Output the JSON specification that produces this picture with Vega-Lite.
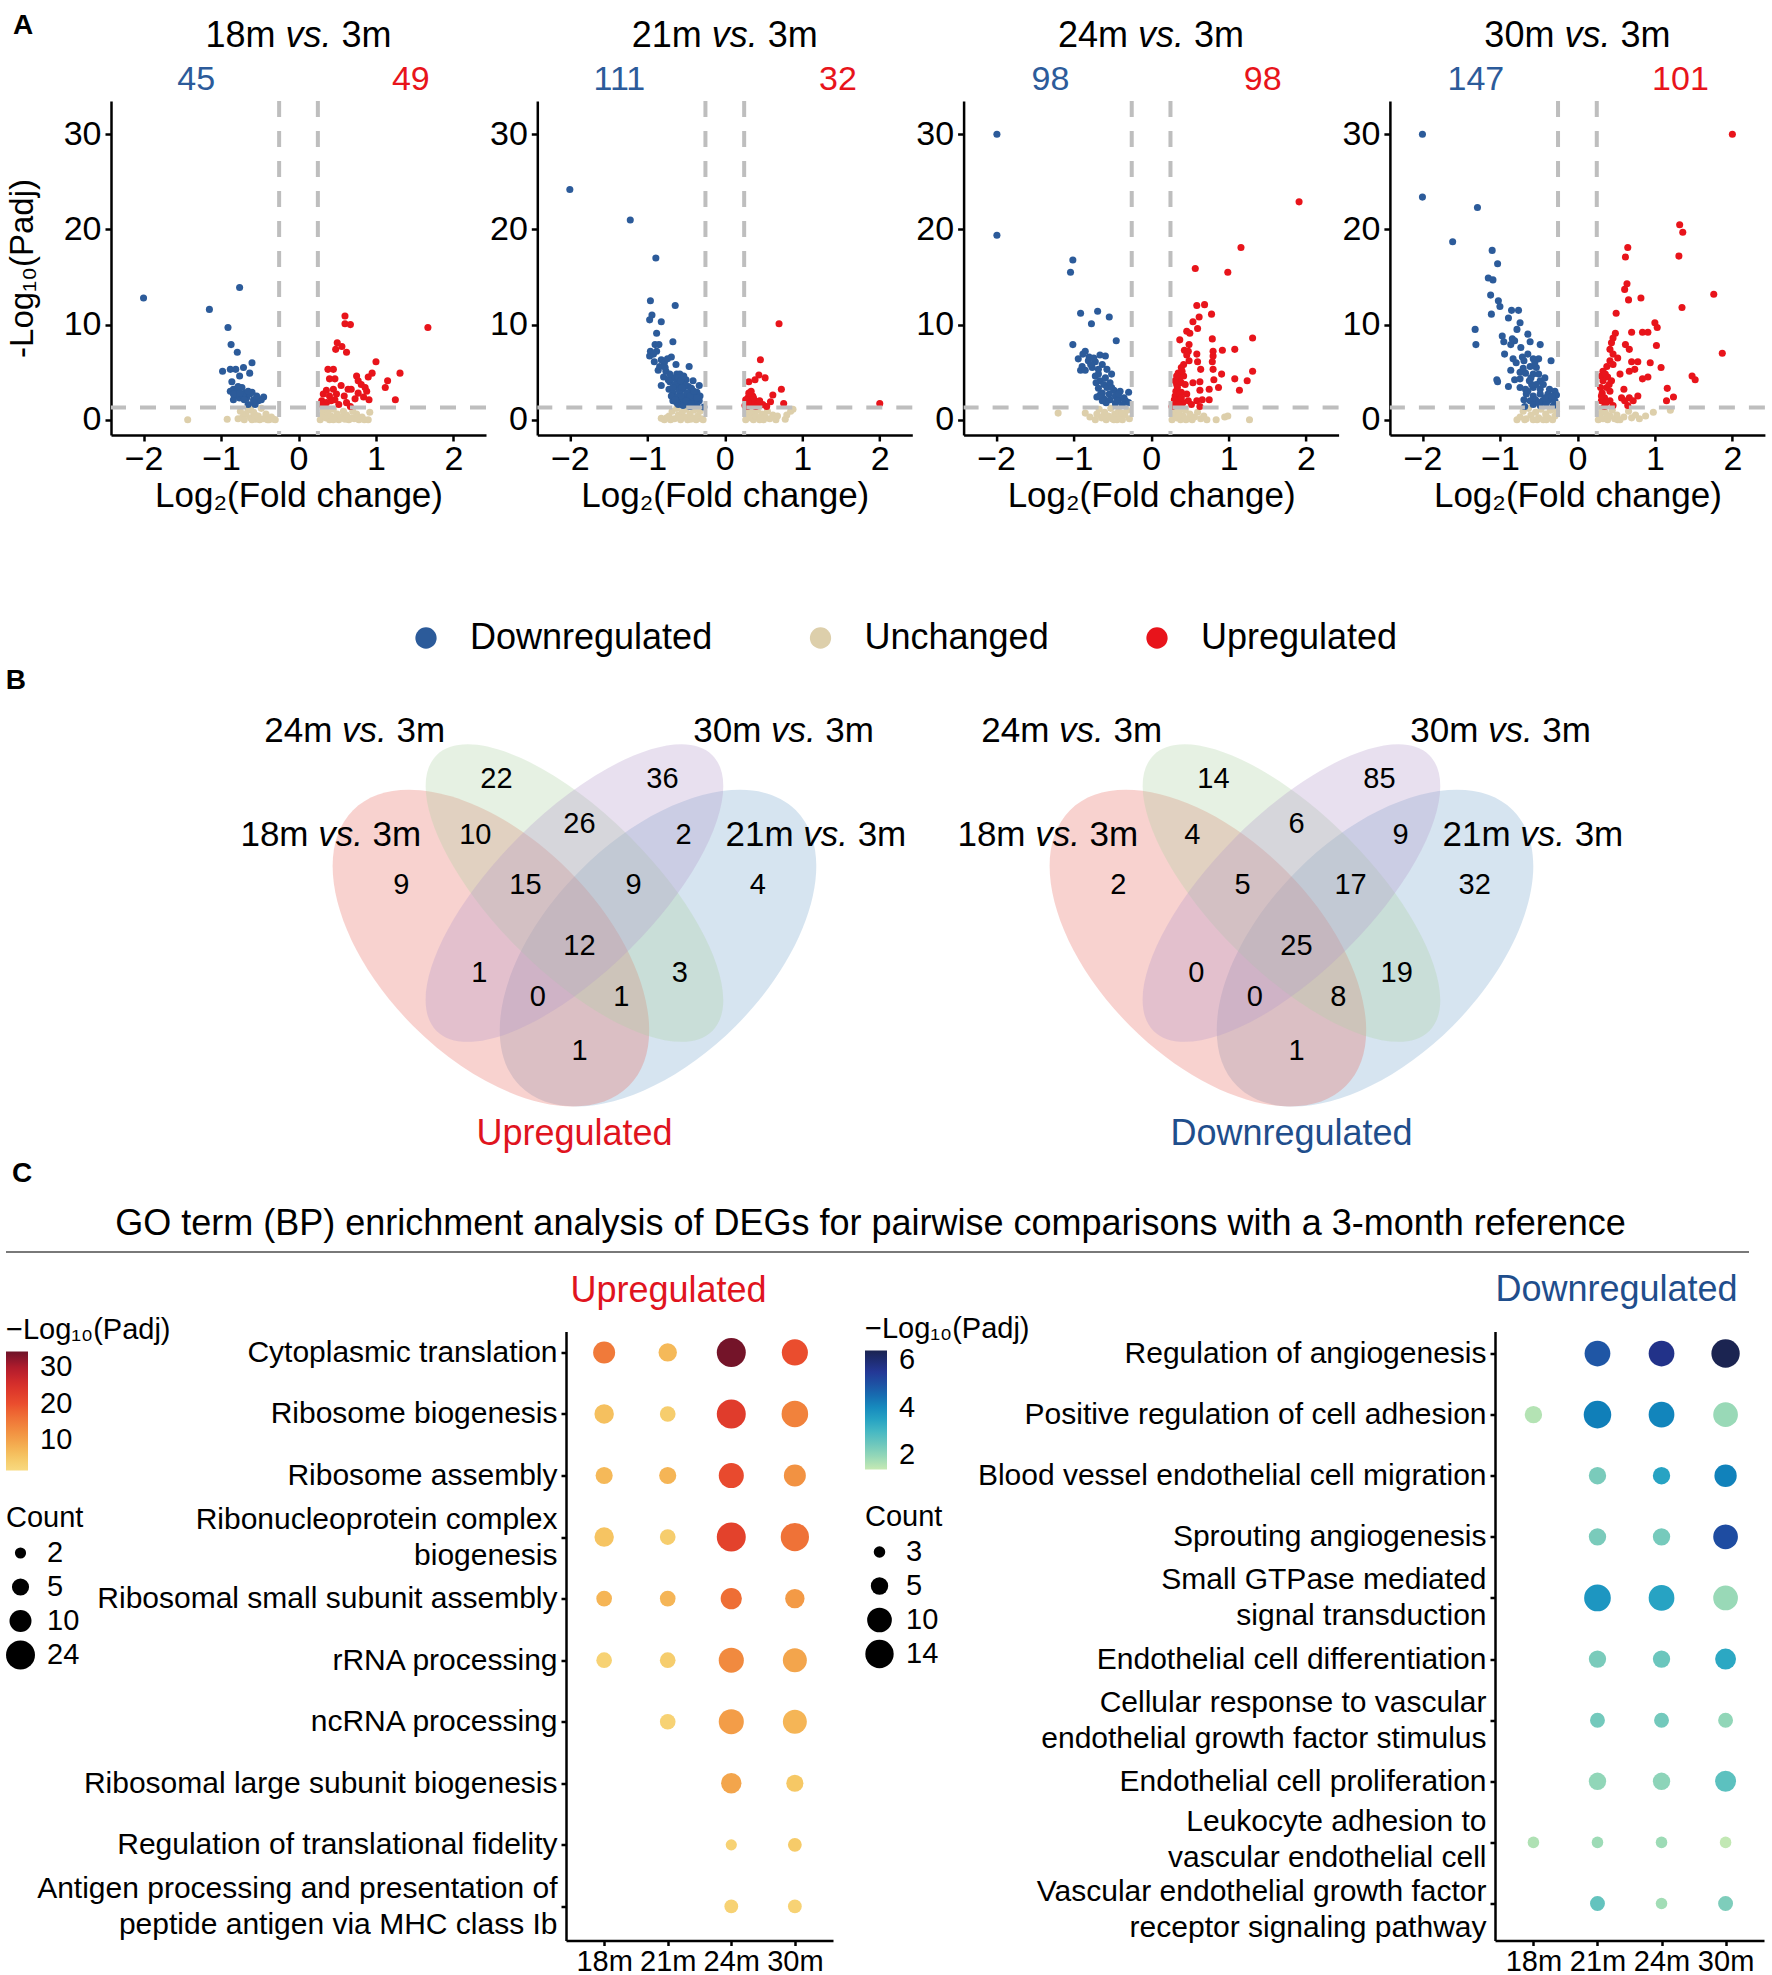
{
"$schema": "https://vega.github.io/schema/vega-lite/v6.json",
"background": "white",
"padding": {"left": 5, "top": 11, "right": 0, "bottom": 0},
"config": {
 "font": "Liberation Sans",
 "view": {"stroke": null},
 "axis": {"grid": false, "domainColor": "#000000", "tickColor": "#000000", "labelColor": "#000000", "titleColor": "#000000", "titleFontWeight": "normal", "domainWidth": 2.5, "tickWidth": 2.5},
 "legend": {"titleFontWeight": "normal", "labelColor": "#000000", "titleColor": "#000000"},
 "title": {"fontWeight": "normal"}
},
"datasets": {
 "pan": [{"g":"18m","down":45,"up":49},{"g":"21m","down":111,"up":32},{"g":"24m","down":98,"up":98},{"g":"30m","down":147,"up":101}],
 "vcut": [{"fc":-0.25},{"fc":0.25}],
 "hcut": [{"p":1.3}],
 "ell": [{"set":"18m","u":0.35,"v":0.471},{"set":"21m","u":0.65,"v":0.471},{"set":"24m","u":0.5,"v":0.57},{"set":"30m","u":0.5,"v":0.57}],
 "slab": [{"set":"24m","u":0.105,"v":0.861},{"set":"30m","u":0.875,"v":0.861},{"set":"18m","u":0.062,"v":0.674},{"set":"21m","u":0.933,"v":0.674}],
 "vdir": [{"dir":"Upregulated"},{"dir":"Downregulated"}],
 "vn": [
  {"dir":"Upregulated","u":0.36,"v":0.774,"n":22},{"dir":"Upregulated","u":0.658,"v":0.774,"n":36},{"dir":"Upregulated","u":0.322,"v":0.674,"n":10},{"dir":"Upregulated","u":0.509,"v":0.694,"n":26},{"dir":"Upregulated","u":0.696,"v":0.674,"n":2},{"dir":"Upregulated","u":0.189,"v":0.584,"n":9},{"dir":"Upregulated","u":0.412,"v":0.584,"n":15},{"dir":"Upregulated","u":0.606,"v":0.584,"n":9},{"dir":"Upregulated","u":0.829,"v":0.584,"n":4},{"dir":"Upregulated","u":0.509,"v":0.475,"n":12},{"dir":"Upregulated","u":0.329,"v":0.426,"n":1},{"dir":"Upregulated","u":0.434,"v":0.383,"n":0},{"dir":"Upregulated","u":0.584,"v":0.383,"n":1},{"dir":"Upregulated","u":0.689,"v":0.426,"n":3},{"dir":"Upregulated","u":0.509,"v":0.287,"n":1},
  {"dir":"Downregulated","u":0.36,"v":0.774,"n":14},{"dir":"Downregulated","u":0.658,"v":0.774,"n":85},{"dir":"Downregulated","u":0.322,"v":0.674,"n":4},{"dir":"Downregulated","u":0.509,"v":0.694,"n":6},{"dir":"Downregulated","u":0.696,"v":0.674,"n":9},{"dir":"Downregulated","u":0.189,"v":0.584,"n":2},{"dir":"Downregulated","u":0.412,"v":0.584,"n":5},{"dir":"Downregulated","u":0.606,"v":0.584,"n":17},{"dir":"Downregulated","u":0.829,"v":0.584,"n":32},{"dir":"Downregulated","u":0.509,"v":0.475,"n":25},{"dir":"Downregulated","u":0.329,"v":0.426,"n":0},{"dir":"Downregulated","u":0.434,"v":0.383,"n":0},{"dir":"Downregulated","u":0.584,"v":0.383,"n":8},{"dir":"Downregulated","u":0.689,"v":0.426,"n":19},{"dir":"Downregulated","u":0.509,"v":0.287,"n":1}
 ],
 "goup": [
  {"term":"Cytoplasmic translation","age":"18m","count":10,"padj":15},{"term":"Cytoplasmic translation","age":"21m","count":6,"padj":7},{"term":"Cytoplasmic translation","age":"24m","count":24,"padj":34},{"term":"Cytoplasmic translation","age":"30m","count":17,"padj":20},
  {"term":"Ribosome biogenesis","age":"18m","count":7,"padj":6},{"term":"Ribosome biogenesis","age":"21m","count":4,"padj":4},{"term":"Ribosome biogenesis","age":"24m","count":24,"padj":23},{"term":"Ribosome biogenesis","age":"30m","count":18,"padj":14},
  {"term":"Ribosome assembly","age":"18m","count":5,"padj":7},{"term":"Ribosome assembly","age":"21m","count":5,"padj":7.5},{"term":"Ribosome assembly","age":"24m","count":15,"padj":20.5},{"term":"Ribosome assembly","age":"30m","count":10,"padj":12},
  {"term":"Ribonucleoprotein complex\nbiogenesis","age":"18m","count":7,"padj":5.5},{"term":"Ribonucleoprotein complex\nbiogenesis","age":"21m","count":4,"padj":4},{"term":"Ribonucleoprotein complex\nbiogenesis","age":"24m","count":24,"padj":22},{"term":"Ribonucleoprotein complex\nbiogenesis","age":"30m","count":22,"padj":16},
  {"term":"Ribosomal small subunit assembly","age":"18m","count":4,"padj":7.5},{"term":"Ribosomal small subunit assembly","age":"21m","count":4,"padj":7.5},{"term":"Ribosomal small subunit assembly","age":"24m","count":9,"padj":16.5},{"term":"Ribosomal small subunit assembly","age":"30m","count":7,"padj":11},
  {"term":"rRNA processing","age":"18m","count":4,"padj":3},{"term":"rRNA processing","age":"21m","count":4,"padj":4},{"term":"rRNA processing","age":"24m","count":15,"padj":13},{"term":"rRNA processing","age":"30m","count":13,"padj":9.5},
  {"term":"ncRNA processing","age":"21m","count":4,"padj":3},{"term":"ncRNA processing","age":"24m","count":15,"padj":10.5},{"term":"ncRNA processing","age":"30m","count":13,"padj":7.5},
  {"term":"Ribosomal large subunit biogenesis","age":"24m","count":8,"padj":9.5},{"term":"Ribosomal large subunit biogenesis","age":"30m","count":5,"padj":5},
  {"term":"Regulation of translational fidelity","age":"24m","count":2,"padj":3},{"term":"Regulation of translational fidelity","age":"30m","count":3,"padj":4.5},
  {"term":"Antigen processing and presentation of\npeptide antigen via MHC class Ib\u00a0","age":"24m","count":3,"padj":3},{"term":"Antigen processing and presentation of\npeptide antigen via MHC class Ib\u00a0","age":"30m","count":3,"padj":3}
 ],
 "godn": [
  {"term":"Regulation of angiogenesis","age":"21m","count":11,"padj":4.9},{"term":"Regulation of angiogenesis","age":"24m","count":11,"padj":5.7},{"term":"Regulation of angiogenesis","age":"30m","count":14,"padj":6.4},
  {"term":"Positive regulation of cell adhesion","age":"18m","count":5,"padj":1.6},{"term":"Positive regulation of cell adhesion","age":"21m","count":13,"padj":4.2},{"term":"Positive regulation of cell adhesion","age":"24m","count":11,"padj":4.1},{"term":"Positive regulation of cell adhesion","age":"30m","count":10,"padj":1.9},
  {"term":"Blood vessel endothelial cell migration","age":"21m","count":5,"padj":2.3},{"term":"Blood vessel endothelial cell migration","age":"24m","count":5,"padj":3.5},{"term":"Blood vessel endothelial cell migration","age":"30m","count":8,"padj":4.15},
  {"term":"Sprouting angiogenesis","age":"21m","count":5,"padj":2.3},{"term":"Sprouting angiogenesis","age":"24m","count":5,"padj":2.35},{"term":"Sprouting angiogenesis","age":"30m","count":10,"padj":5.1},
  {"term":"Small GTPase mediated\nsignal transduction","age":"21m","count":12,"padj":3.8},{"term":"Small GTPase mediated\nsignal transduction","age":"24m","count":11,"padj":3.5},{"term":"Small GTPase mediated\nsignal transduction","age":"30m","count":10,"padj":1.9},
  {"term":"Endothelial cell differentiation","age":"21m","count":5,"padj":2.3},{"term":"Endothelial cell differentiation","age":"24m","count":5,"padj":2.5},{"term":"Endothelial cell differentiation","age":"30m","count":7,"padj":3.4},
  {"term":"Cellular response to vascular\nendothelial growth factor stimulus\u00a0","age":"21m","count":4,"padj":2.4},{"term":"Cellular response to vascular\nendothelial growth factor stimulus\u00a0","age":"24m","count":4,"padj":2.4},{"term":"Cellular response to vascular\nendothelial growth factor stimulus\u00a0","age":"30m","count":4,"padj":2.0},
  {"term":"Endothelial cell proliferation","age":"21m","count":5,"padj":2.0},{"term":"Endothelial cell proliferation","age":"24m","count":5,"padj":2.05},{"term":"Endothelial cell proliferation","age":"30m","count":7,"padj":2.7},
  {"term":"Leukocyte adhesion to\nvascular endothelial cell\u00a0","age":"18m","count":3,"padj":1.65},{"term":"Leukocyte adhesion to\nvascular endothelial cell\u00a0","age":"21m","count":3,"padj":1.85},{"term":"Leukocyte adhesion to\nvascular endothelial cell\u00a0","age":"24m","count":3,"padj":1.85},{"term":"Leukocyte adhesion to\nvascular endothelial cell\u00a0","age":"30m","count":3,"padj":1.45},
  {"term":"Vascular endothelial growth factor\nreceptor signaling pathway\u00a0","age":"21m","count":4,"padj":2.6},{"term":"Vascular endothelial growth factor\nreceptor signaling pathway\u00a0","age":"24m","count":3,"padj":1.8},{"term":"Vascular endothelial growth factor\nreceptor signaling pathway\u00a0","age":"30m","count":4,"padj":2.25}
 ],
 "vol": [
  {"g":"18m","s":"N","x":-1.43,"y":0.0},{"g":"18m","s":"N","x":-0.92,"y":0.05},{"g":"18m","s":"N","x":-0.78,"y":0.1},{"g":"18m","s":"N","x":-0.72,"y":0.3},{"g":"18m","s":"N","x":-0.68,"y":0.6},{"g":"18m","s":"N","x":-0.65,"y":1.0},{"g":"18m","s":"N","x":-0.62,"y":0.2},{"g":"18m","s":"N","x":-0.58,"y":0.8},{"g":"18m","s":"N","x":-0.55,"y":0.05},{"g":"18m","s":"N","x":-0.52,"y":0.4},{"g":"18m","s":"N","x":-0.48,"y":1.2},{"g":"18m","s":"N","x":-0.45,"y":0.1},{"g":"18m","s":"N","x":-0.42,"y":0.6},{"g":"18m","s":"N","x":-0.38,"y":0.0},{"g":"18m","s":"N","x":-0.35,"y":0.3},{"g":"18m","s":"N","x":-0.32,"y":0.05},{"g":"18m","s":"N","x":-0.30,"y":0.0},{"g":"18m","s":"N","x":-0.7,"y":0.0},{"g":"18m","s":"N","x":-0.6,"y":0.0},{"g":"18m","s":"N","x":-0.5,"y":0.0},{"g":"18m","s":"N","x":-0.4,"y":0.0},{"g":"18m","s":"N","x":-0.75,"y":0.9},{"g":"18m","s":"N","x":-0.56,"y":0.5},{"g":"18m","s":"N","x":-0.62,"y":1.1},
  {"g":"18m","s":"N","x":0.28,"y":0.0},{"g":"18m","s":"N","x":0.30,"y":0.5},{"g":"18m","s":"N","x":0.32,"y":1.0},{"g":"18m","s":"N","x":0.35,"y":0.2},{"g":"18m","s":"N","x":0.38,"y":0.8},{"g":"18m","s":"N","x":0.40,"y":0.0},{"g":"18m","s":"N","x":0.42,"y":0.4},{"g":"18m","s":"N","x":0.45,"y":1.1},{"g":"18m","s":"N","x":0.48,"y":0.1},{"g":"18m","s":"N","x":0.5,"y":0.6},{"g":"18m","s":"N","x":0.52,"y":0.0},{"g":"18m","s":"N","x":0.55,"y":0.3},{"g":"18m","s":"N","x":0.58,"y":0.9},{"g":"18m","s":"N","x":0.6,"y":0.05},{"g":"18m","s":"N","x":0.62,"y":0.5},{"g":"18m","s":"N","x":0.65,"y":0.0},{"g":"18m","s":"N","x":0.68,"y":0.2},{"g":"18m","s":"N","x":0.72,"y":0.1},{"g":"18m","s":"N","x":0.75,"y":0.6},{"g":"18m","s":"N","x":0.78,"y":0.0},{"g":"18m","s":"N","x":0.82,"y":0.3},{"g":"18m","s":"N","x":0.85,"y":0.0},{"g":"18m","s":"N","x":0.9,"y":0.0},{"g":"18m","s":"N","x":0.92,"y":0.8},{"g":"18m","s":"N","x":0.33,"y":1.2},{"g":"18m","s":"N","x":0.45,"y":0.0},{"g":"18m","s":"N","x":0.7,"y":0.9},
  {"g":"18m","s":"D","x":-2.0,"y":12.8},{"g":"18m","s":"D","x":-1.15,"y":11.6},{"g":"18m","s":"D","x":-0.76,"y":13.9},{"g":"18m","s":"D","x":-0.91,"y":9.7},{"g":"18m","s":"D","x":-0.87,"y":7.9},{"g":"18m","s":"D","x":-0.79,"y":7.1},{"g":"18m","s":"D","x":-0.60,"y":6.0},{"g":"18m","s":"D","x":-0.98,"y":5.1},{"g":"18m","s":"D","x":-0.88,"y":5.3},{"g":"18m","s":"D","x":-0.81,"y":5.3},{"g":"18m","s":"D","x":-0.71,"y":5.5},{"g":"18m","s":"D","x":-0.63,"y":4.9},{"g":"18m","s":"D","x":-0.76,"y":4.6},{"g":"18m","s":"D","x":-0.86,"y":4.0},{"g":"18m","s":"D","x":-0.84,"y":3.2},{"g":"18m","s":"D","x":-0.79,"y":3.1},{"g":"18m","s":"D","x":-0.73,"y":3.4},{"g":"18m","s":"D","x":-0.69,"y":2.8},{"g":"18m","s":"D","x":-0.60,"y":2.9},{"g":"18m","s":"D","x":-0.82,"y":2.5},{"g":"18m","s":"D","x":-0.76,"y":2.3},{"g":"18m","s":"D","x":-0.67,"y":2.3},{"g":"18m","s":"D","x":-0.58,"y":2.1},{"g":"18m","s":"D","x":-0.45,"y":2.4},{"g":"18m","s":"D","x":-0.52,"y":2.0},{"g":"18m","s":"D","x":-0.56,"y":1.6},{"g":"18m","s":"D","x":-0.65,"y":1.6},{"g":"18m","s":"D","x":-0.84,"y":2.1},{"g":"18m","s":"D","x":-0.80,"y":2.7},{"g":"18m","s":"D","x":-0.72,"y":2.6},{"g":"18m","s":"D","x":-0.88,"y":3.0},{"g":"18m","s":"D","x":-0.63,"y":2.7},{"g":"18m","s":"D","x":-0.48,"y":2.1},{"g":"18m","s":"D","x":-0.54,"y":2.5},{"g":"18m","s":"D","x":-0.70,"y":2.1},{"g":"18m","s":"D","x":-0.78,"y":3.5},{"g":"18m","s":"D","x":-0.76,"y":2.8},{"g":"18m","s":"D","x":-0.65,"y":3.0},{"g":"18m","s":"D","x":-0.84,"y":2.7},{"g":"18m","s":"D","x":-0.58,"y":1.8},
  {"g":"18m","s":"U","x":0.60,"y":10.9},{"g":"18m","s":"U","x":0.60,"y":10.1},{"g":"18m","s":"U","x":0.67,"y":10.0},{"g":"18m","s":"U","x":1.67,"y":9.7},{"g":"18m","s":"U","x":0.50,"y":8.1},{"g":"18m","s":"U","x":0.56,"y":7.7},{"g":"18m","s":"U","x":0.48,"y":7.4},{"g":"18m","s":"U","x":0.62,"y":7.1},{"g":"18m","s":"U","x":1.00,"y":6.1},{"g":"18m","s":"U","x":0.38,"y":5.3},{"g":"18m","s":"U","x":0.45,"y":5.3},{"g":"18m","s":"U","x":1.31,"y":4.9},{"g":"18m","s":"U","x":0.95,"y":4.9},{"g":"18m","s":"U","x":0.90,"y":4.5},{"g":"18m","s":"U","x":0.75,"y":4.6},{"g":"18m","s":"U","x":0.40,"y":4.3},{"g":"18m","s":"U","x":0.47,"y":4.3},{"g":"18m","s":"U","x":0.77,"y":4.1},{"g":"18m","s":"U","x":1.15,"y":4.1},{"g":"18m","s":"U","x":0.81,"y":3.7},{"g":"18m","s":"U","x":0.86,"y":3.4},{"g":"18m","s":"U","x":1.12,"y":3.4},{"g":"18m","s":"U","x":0.55,"y":3.6},{"g":"18m","s":"U","x":0.45,"y":3.2},{"g":"18m","s":"U","x":0.36,"y":3.1},{"g":"18m","s":"U","x":0.64,"y":3.2},{"g":"18m","s":"U","x":0.68,"y":3.2},{"g":"18m","s":"U","x":0.88,"y":3.0},{"g":"18m","s":"U","x":0.49,"y":2.7},{"g":"18m","s":"U","x":0.77,"y":2.8},{"g":"18m","s":"U","x":0.32,"y":2.7},{"g":"18m","s":"U","x":0.40,"y":2.5},{"g":"18m","s":"U","x":0.59,"y":2.5},{"g":"18m","s":"U","x":0.84,"y":2.4},{"g":"18m","s":"U","x":0.73,"y":2.2},{"g":"18m","s":"U","x":0.91,"y":2.1},{"g":"18m","s":"U","x":1.25,"y":2.1},{"g":"18m","s":"U","x":0.30,"y":2.0},{"g":"18m","s":"U","x":0.36,"y":1.8},{"g":"18m","s":"U","x":0.62,"y":1.8},{"g":"18m","s":"U","x":0.67,"y":1.4},{"g":"18m","s":"U","x":0.30,"y":1.6},{"g":"18m","s":"U","x":0.47,"y":2.1},{"g":"18m","s":"U","x":0.52,"y":1.6},{"g":"18m","s":"U","x":0.42,"y":2.0},
  {"g":"21m","s":"N","x":-0.82,"y":0.15},{"g":"21m","s":"N","x":-0.78,"y":0.0},{"g":"21m","s":"N","x":-0.72,"y":0.4},{"g":"21m","s":"N","x":-0.68,"y":0.9},{"g":"21m","s":"N","x":-0.65,"y":0.1},{"g":"21m","s":"N","x":-0.62,"y":1.2},{"g":"21m","s":"N","x":-0.6,"y":0.5},{"g":"21m","s":"N","x":-0.57,"y":0.0},{"g":"21m","s":"N","x":-0.55,"y":0.8},{"g":"21m","s":"N","x":-0.52,"y":0.3},{"g":"21m","s":"N","x":-0.5,"y":1.1},{"g":"21m","s":"N","x":-0.48,"y":0.0},{"g":"21m","s":"N","x":-0.45,"y":0.6},{"g":"21m","s":"N","x":-0.42,"y":0.2},{"g":"21m","s":"N","x":-0.4,"y":1.0},{"g":"21m","s":"N","x":-0.37,"y":0.0},{"g":"21m","s":"N","x":-0.35,"y":0.4},{"g":"21m","s":"N","x":-0.32,"y":0.9},{"g":"21m","s":"N","x":-0.3,"y":0.1},{"g":"21m","s":"N","x":-0.28,"y":0.0},{"g":"21m","s":"N","x":-0.7,"y":0.0},{"g":"21m","s":"N","x":-0.58,"y":0.2},{"g":"21m","s":"N","x":-0.44,"y":0.05},{"g":"21m","s":"N","x":-0.75,"y":0.2},
  {"g":"21m","s":"N","x":0.27,"y":0.0},{"g":"21m","s":"N","x":0.29,"y":0.5},{"g":"21m","s":"N","x":0.31,"y":1.1},{"g":"21m","s":"N","x":0.33,"y":0.2},{"g":"21m","s":"N","x":0.35,"y":0.8},{"g":"21m","s":"N","x":0.37,"y":0.0},{"g":"21m","s":"N","x":0.40,"y":0.4},{"g":"21m","s":"N","x":0.42,"y":1.0},{"g":"21m","s":"N","x":0.45,"y":0.1},{"g":"21m","s":"N","x":0.48,"y":0.6},{"g":"21m","s":"N","x":0.5,"y":0.0},{"g":"21m","s":"N","x":0.52,"y":0.3},{"g":"21m","s":"N","x":0.55,"y":0.9},{"g":"21m","s":"N","x":0.58,"y":0.1},{"g":"21m","s":"N","x":0.62,"y":0.5},{"g":"21m","s":"N","x":0.66,"y":0.0},{"g":"21m","s":"N","x":0.68,"y":0.4},{"g":"21m","s":"N","x":0.78,"y":0.05},{"g":"21m","s":"N","x":0.8,"y":0.5},{"g":"21m","s":"N","x":0.85,"y":0.9},{"g":"21m","s":"N","x":0.88,"y":1.1},{"g":"21m","s":"N","x":0.36,"y":1.2},{"g":"21m","s":"N","x":0.45,"y":0.0},
  {"g":"21m","s":"D","x":-2.0,"y":24.2},{"g":"21m","s":"D","x":-1.22,"y":21.0},{"g":"21m","s":"D","x":-0.89,"y":17.0},{"g":"21m","s":"D","x":-0.96,"y":12.5},{"g":"21m","s":"D","x":-0.64,"y":12.0},{"g":"21m","s":"D","x":-0.94,"y":11.0},{"g":"21m","s":"D","x":-0.97,"y":10.5},{"g":"21m","s":"D","x":-0.82,"y":10.3},{"g":"21m","s":"D","x":-0.88,"y":9.1},{"g":"21m","s":"D","x":-0.67,"y":8.2},{"g":"21m","s":"D","x":-0.90,"y":7.9},{"g":"21m","s":"D","x":-0.85,"y":7.9},{"g":"21m","s":"D","x":-0.96,"y":7.2},{"g":"21m","s":"D","x":-0.88,"y":7.2},{"g":"21m","s":"D","x":-0.97,"y":6.7},{"g":"21m","s":"D","x":-0.82,"y":6.3},{"g":"21m","s":"D","x":-0.69,"y":6.6},{"g":"21m","s":"D","x":-0.91,"y":6.1},{"g":"21m","s":"D","x":-0.78,"y":6.0},{"g":"21m","s":"D","x":-0.63,"y":5.8},{"g":"21m","s":"D","x":-0.46,"y":5.6},{"g":"21m","s":"D","x":-0.86,"y":5.2},{"g":"21m","s":"D","x":-0.76,"y":5.1},{"g":"21m","s":"D","x":-0.62,"y":4.8},{"g":"21m","s":"D","x":-0.58,"y":4.8},{"g":"21m","s":"D","x":-0.79,"y":4.5},{"g":"21m","s":"D","x":-0.67,"y":4.4},{"g":"21m","s":"D","x":-0.50,"y":4.2},{"g":"21m","s":"D","x":-0.71,"y":4.0},{"g":"21m","s":"D","x":-0.62,"y":4.1},{"g":"21m","s":"D","x":-0.56,"y":3.8},{"g":"21m","s":"D","x":-0.82,"y":3.6},{"g":"21m","s":"D","x":-0.47,"y":3.5},{"g":"21m","s":"D","x":-0.33,"y":3.6},{"g":"21m","s":"D","x":-0.62,"y":3.4},{"g":"21m","s":"D","x":-0.54,"y":3.2},{"g":"21m","s":"D","x":-0.43,"y":3.3},{"g":"21m","s":"D","x":-0.72,"y":3.2},{"g":"21m","s":"D","x":-0.67,"y":2.8},{"g":"21m","s":"D","x":-0.58,"y":2.8},{"g":"21m","s":"D","x":-0.45,"y":2.7},{"g":"21m","s":"D","x":-0.36,"y":2.9},{"g":"21m","s":"D","x":-0.62,"y":2.4},{"g":"21m","s":"D","x":-0.52,"y":2.3},{"g":"21m","s":"D","x":-0.41,"y":2.4},{"g":"21m","s":"D","x":-0.33,"y":2.0},{"g":"21m","s":"D","x":-0.56,"y":2.0},{"g":"21m","s":"D","x":-0.47,"y":1.8},{"g":"21m","s":"D","x":-0.36,"y":1.6},{"g":"21m","s":"D","x":-0.27,"y":1.35},{"g":"21m","s":"D","x":-0.67,"y":2.0},{"g":"21m","s":"D","x":-0.60,"y":1.6},{"g":"21m","s":"D","x":-0.45,"y":1.4},{"g":"21m","s":"D","x":-0.54,"y":1.5},{"g":"21m","s":"D","x":-0.64,"y":3.7},{"g":"21m","s":"D","x":-0.73,"y":4.2},{"g":"21m","s":"D","x":-0.60,"y":4.4},{"g":"21m","s":"D","x":-0.52,"y":3.7},{"g":"21m","s":"D","x":-0.41,"y":4.1},{"g":"21m","s":"D","x":-0.69,"y":2.5},{"g":"21m","s":"D","x":-0.32,"y":2.5},{"g":"21m","s":"D","x":-0.39,"y":2.0},{"g":"21m","s":"D","x":-0.57,"y":4.1},{"g":"21m","s":"D","x":-0.49,"y":2.8},{"g":"21m","s":"D","x":-0.43,"y":2.1},{"g":"21m","s":"D","x":-0.56,"y":2.5},{"g":"21m","s":"D","x":-0.62,"y":1.8},{"g":"21m","s":"D","x":-0.71,"y":4.8},{"g":"21m","s":"D","x":-0.77,"y":5.5},{"g":"21m","s":"D","x":-0.84,"y":5.6},{"g":"21m","s":"D","x":-0.92,"y":6.9},{"g":"21m","s":"D","x":-0.74,"y":6.4},{"g":"21m","s":"D","x":-0.59,"y":3.1},{"g":"21m","s":"D","x":-0.53,"y":4.6},{"g":"21m","s":"D","x":-0.45,"y":2.5},{"g":"21m","s":"D","x":-0.36,"y":2.3},{"g":"21m","s":"D","x":-0.64,"y":2.1},{"g":"21m","s":"D","x":-0.50,"y":2.0},{"g":"21m","s":"D","x":-0.40,"y":3.0},{"g":"21m","s":"D","x":-0.55,"y":3.4},{"g":"21m","s":"D","x":-0.67,"y":3.4},{"g":"21m","s":"D","x":-0.43,"y":1.7},
  {"g":"21m","s":"U","x":0.70,"y":10.1},{"g":"21m","s":"U","x":0.46,"y":6.3},{"g":"21m","s":"U","x":0.44,"y":4.7},{"g":"21m","s":"U","x":0.52,"y":4.4},{"g":"21m","s":"U","x":0.39,"y":4.2},{"g":"21m","s":"U","x":0.31,"y":4.0},{"g":"21m","s":"U","x":0.73,"y":3.2},{"g":"21m","s":"U","x":0.62,"y":2.6},{"g":"21m","s":"U","x":0.32,"y":2.7},{"g":"21m","s":"U","x":0.36,"y":2.5},{"g":"21m","s":"U","x":0.30,"y":2.3},{"g":"21m","s":"U","x":0.34,"y":2.1},{"g":"21m","s":"U","x":0.39,"y":2.0},{"g":"21m","s":"U","x":0.28,"y":2.0},{"g":"21m","s":"U","x":0.32,"y":1.8},{"g":"21m","s":"U","x":0.41,"y":1.7},{"g":"21m","s":"U","x":0.49,"y":1.6},{"g":"21m","s":"U","x":0.59,"y":1.9},{"g":"21m","s":"U","x":0.76,"y":1.7},{"g":"21m","s":"U","x":2.0,"y":1.7},{"g":"21m","s":"U","x":0.26,"y":1.5},{"g":"21m","s":"U","x":0.35,"y":1.6},{"g":"21m","s":"U","x":0.43,"y":1.5},{"g":"21m","s":"U","x":0.29,"y":1.4},{"g":"21m","s":"U","x":0.45,"y":2.0},{"g":"21m","s":"U","x":0.37,"y":2.3},{"g":"21m","s":"U","x":0.31,"y":2.8},{"g":"21m","s":"U","x":0.34,"y":3.0},{"g":"21m","s":"U","x":0.27,"y":2.1},{"g":"21m","s":"U","x":0.54,"y":1.4},{"g":"21m","s":"U","x":0.40,"y":1.4},{"g":"21m","s":"U","x":0.30,"y":1.8},
  {"g":"24m","s":"N","x":-0.85,"y":0.7},{"g":"24m","s":"N","x":-0.79,"y":0.3},{"g":"24m","s":"N","x":-1.2,"y":0.7},{"g":"24m","s":"N","x":-0.72,"y":0.0},{"g":"24m","s":"N","x":-0.7,"y":0.6},{"g":"24m","s":"N","x":-0.67,"y":1.1},{"g":"24m","s":"N","x":-0.64,"y":0.2},{"g":"24m","s":"N","x":-0.6,"y":0.8},{"g":"24m","s":"N","x":-0.58,"y":0.0},{"g":"24m","s":"N","x":-0.55,"y":0.4},{"g":"24m","s":"N","x":-0.52,"y":1.2},{"g":"24m","s":"N","x":-0.5,"y":0.1},{"g":"24m","s":"N","x":-0.47,"y":0.6},{"g":"24m","s":"N","x":-0.44,"y":0.0},{"g":"24m","s":"N","x":-0.42,"y":0.9},{"g":"24m","s":"N","x":-0.4,"y":0.3},{"g":"24m","s":"N","x":-0.37,"y":0.0},{"g":"24m","s":"N","x":-0.34,"y":0.5},{"g":"24m","s":"N","x":-0.31,"y":1.0},{"g":"24m","s":"N","x":-0.28,"y":0.1},{"g":"24m","s":"N","x":-0.62,"y":0.4},{"g":"24m","s":"N","x":-0.48,"y":0.0},{"g":"24m","s":"N","x":-0.38,"y":0.7},
  {"g":"24m","s":"N","x":0.27,"y":0.0},{"g":"24m","s":"N","x":0.29,"y":0.6},{"g":"24m","s":"N","x":0.31,"y":1.2},{"g":"24m","s":"N","x":0.33,"y":0.2},{"g":"24m","s":"N","x":0.36,"y":0.9},{"g":"24m","s":"N","x":0.38,"y":0.0},{"g":"24m","s":"N","x":0.41,"y":0.4},{"g":"24m","s":"N","x":0.44,"y":1.0},{"g":"24m","s":"N","x":0.47,"y":0.1},{"g":"24m","s":"N","x":0.5,"y":0.6},{"g":"24m","s":"N","x":0.53,"y":0.0},{"g":"24m","s":"N","x":0.56,"y":0.3},{"g":"24m","s":"N","x":0.6,"y":0.8},{"g":"24m","s":"N","x":0.64,"y":0.1},{"g":"24m","s":"N","x":0.68,"y":0.4},{"g":"24m","s":"N","x":0.72,"y":0.0},{"g":"24m","s":"N","x":0.84,"y":0.0},{"g":"24m","s":"N","x":0.95,"y":0.3},{"g":"24m","s":"N","x":0.99,"y":0.4},{"g":"24m","s":"N","x":1.27,"y":0.0},{"g":"24m","s":"N","x":0.45,"y":0.0},{"g":"24m","s":"N","x":0.35,"y":0.4},
  {"g":"24m","s":"D","x":-1.99,"y":30.0},{"g":"24m","s":"D","x":-1.99,"y":19.4},{"g":"24m","s":"D","x":-1.01,"y":16.8},{"g":"24m","s":"D","x":-1.04,"y":15.5},{"g":"24m","s":"D","x":-0.91,"y":11.2},{"g":"24m","s":"D","x":-0.69,"y":11.4},{"g":"24m","s":"D","x":-0.54,"y":10.8},{"g":"24m","s":"D","x":-0.77,"y":10.1},{"g":"24m","s":"D","x":-0.45,"y":8.3},{"g":"24m","s":"D","x":-1.01,"y":7.9},{"g":"24m","s":"D","x":-0.85,"y":7.2},{"g":"24m","s":"D","x":-0.88,"y":6.9},{"g":"24m","s":"D","x":-0.80,"y":6.6},{"g":"24m","s":"D","x":-0.66,"y":6.8},{"g":"24m","s":"D","x":-0.59,"y":6.7},{"g":"24m","s":"D","x":-0.94,"y":6.4},{"g":"24m","s":"D","x":-0.81,"y":6.2},{"g":"24m","s":"D","x":-0.72,"y":6.1},{"g":"24m","s":"D","x":-0.63,"y":5.8},{"g":"24m","s":"D","x":-0.91,"y":5.2},{"g":"24m","s":"D","x":-0.85,"y":5.2},{"g":"24m","s":"D","x":-0.76,"y":5.5},{"g":"24m","s":"D","x":-0.68,"y":5.3},{"g":"24m","s":"D","x":-0.57,"y":5.3},{"g":"24m","s":"D","x":-0.51,"y":4.8},{"g":"24m","s":"D","x":-0.72,"y":4.6},{"g":"24m","s":"D","x":-0.66,"y":4.1},{"g":"24m","s":"D","x":-0.71,"y":3.9},{"g":"24m","s":"D","x":-0.61,"y":3.7},{"g":"24m","s":"D","x":-0.57,"y":3.4},{"g":"24m","s":"D","x":-0.68,"y":3.3},{"g":"24m","s":"D","x":-0.48,"y":3.1},{"g":"24m","s":"D","x":-0.40,"y":3.0},{"g":"24m","s":"D","x":-0.29,"y":2.9},{"g":"24m","s":"D","x":-0.63,"y":2.8},{"g":"24m","s":"D","x":-0.54,"y":2.7},{"g":"24m","s":"D","x":-0.46,"y":2.5},{"g":"24m","s":"D","x":-0.70,"y":2.4},{"g":"24m","s":"D","x":-0.61,"y":2.2},{"g":"24m","s":"D","x":-0.53,"y":2.1},{"g":"24m","s":"D","x":-0.42,"y":2.1},{"g":"24m","s":"D","x":-0.33,"y":2.0},{"g":"24m","s":"D","x":-0.58,"y":1.8},{"g":"24m","s":"D","x":-0.46,"y":1.7},{"g":"24m","s":"D","x":-0.37,"y":1.6},{"g":"24m","s":"D","x":-0.29,"y":1.8},{"g":"24m","s":"D","x":-0.66,"y":2.6},{"g":"24m","s":"D","x":-0.59,"y":4.4},{"g":"24m","s":"D","x":-0.53,"y":3.9},{"g":"24m","s":"D","x":-0.42,"y":2.7},{"g":"24m","s":"D","x":-0.68,"y":4.8},{"g":"24m","s":"D","x":-0.89,"y":5.6},{"g":"24m","s":"D","x":-0.78,"y":5.8},{"g":"24m","s":"D","x":-0.74,"y":6.5},{"g":"24m","s":"D","x":-0.63,"y":2.0},{"g":"24m","s":"D","x":-0.51,"y":3.4},{"g":"24m","s":"D","x":-0.44,"y":2.0},{"g":"24m","s":"D","x":-0.35,"y":2.3},
  {"g":"24m","s":"U","x":1.91,"y":22.9},{"g":"24m","s":"U","x":1.16,"y":18.1},{"g":"24m","s":"U","x":0.57,"y":15.9},{"g":"24m","s":"U","x":0.99,"y":15.5},{"g":"24m","s":"U","x":0.59,"y":12.0},{"g":"24m","s":"U","x":0.69,"y":12.1},{"g":"24m","s":"U","x":0.78,"y":11.1},{"g":"24m","s":"U","x":0.62,"y":10.8},{"g":"24m","s":"U","x":0.54,"y":10.3},{"g":"24m","s":"U","x":0.60,"y":9.6},{"g":"24m","s":"U","x":0.46,"y":9.3},{"g":"24m","s":"U","x":0.50,"y":9.1},{"g":"24m","s":"U","x":0.37,"y":8.4},{"g":"24m","s":"U","x":0.79,"y":8.5},{"g":"24m","s":"U","x":1.31,"y":8.6},{"g":"24m","s":"U","x":0.49,"y":7.9},{"g":"24m","s":"U","x":0.43,"y":7.3},{"g":"24m","s":"U","x":0.48,"y":7.2},{"g":"24m","s":"U","x":0.80,"y":7.2},{"g":"24m","s":"U","x":0.92,"y":7.3},{"g":"24m","s":"U","x":1.08,"y":7.4},{"g":"24m","s":"U","x":0.46,"y":6.8},{"g":"24m","s":"U","x":0.59,"y":6.9},{"g":"24m","s":"U","x":0.80,"y":6.7},{"g":"24m","s":"U","x":0.49,"y":6.2},{"g":"24m","s":"U","x":0.60,"y":6.1},{"g":"24m","s":"U","x":0.79,"y":6.1},{"g":"24m","s":"U","x":0.39,"y":5.5},{"g":"24m","s":"U","x":0.64,"y":5.3},{"g":"24m","s":"U","x":0.80,"y":5.3},{"g":"24m","s":"U","x":1.31,"y":5.1},{"g":"24m","s":"U","x":0.91,"y":4.8},{"g":"24m","s":"U","x":0.35,"y":4.9},{"g":"24m","s":"U","x":0.42,"y":4.6},{"g":"24m","s":"U","x":0.81,"y":4.2},{"g":"24m","s":"U","x":1.08,"y":4.3},{"g":"24m","s":"U","x":0.54,"y":3.9},{"g":"24m","s":"U","x":0.63,"y":4.0},{"g":"24m","s":"U","x":1.24,"y":4.1},{"g":"24m","s":"U","x":0.33,"y":3.7},{"g":"24m","s":"U","x":0.39,"y":3.9},{"g":"24m","s":"U","x":0.87,"y":3.4},{"g":"24m","s":"U","x":0.63,"y":3.1},{"g":"24m","s":"U","x":0.75,"y":3.2},{"g":"24m","s":"U","x":1.14,"y":3.1},{"g":"24m","s":"U","x":0.32,"y":3.0},{"g":"24m","s":"U","x":0.39,"y":2.9},{"g":"24m","s":"U","x":0.31,"y":2.5},{"g":"24m","s":"U","x":0.37,"y":2.7},{"g":"24m","s":"U","x":0.66,"y":2.1},{"g":"24m","s":"U","x":0.75,"y":2.1},{"g":"24m","s":"U","x":0.30,"y":2.1},{"g":"24m","s":"U","x":0.35,"y":2.0},{"g":"24m","s":"U","x":0.48,"y":2.0},{"g":"24m","s":"U","x":0.59,"y":2.0},{"g":"24m","s":"U","x":0.29,"y":1.7},{"g":"24m","s":"U","x":0.41,"y":1.8},{"g":"24m","s":"U","x":0.52,"y":1.6},{"g":"24m","s":"U","x":0.63,"y":1.4},{"g":"24m","s":"U","x":0.27,"y":1.4},{"g":"24m","s":"U","x":0.34,"y":3.4},{"g":"24m","s":"U","x":0.37,"y":4.4},{"g":"24m","s":"U","x":0.40,"y":5.1},{"g":"24m","s":"U","x":0.42,"y":5.8},{"g":"24m","s":"U","x":0.31,"y":4.1},{"g":"24m","s":"U","x":0.44,"y":3.7},{"g":"24m","s":"U","x":0.33,"y":4.6},{"g":"24m","s":"U","x":0.46,"y":2.7},{"g":"24m","s":"U","x":0.39,"y":2.3},{"g":"24m","s":"U","x":0.36,"y":1.6},
  {"g":"30m","s":"N","x":-0.78,"y":0.0},{"g":"30m","s":"N","x":-0.74,"y":0.3},{"g":"30m","s":"N","x":-0.7,"y":0.9},{"g":"30m","s":"N","x":-0.66,"y":0.1},{"g":"30m","s":"N","x":-0.63,"y":1.2},{"g":"30m","s":"N","x":-0.6,"y":0.5},{"g":"30m","s":"N","x":-0.57,"y":0.0},{"g":"30m","s":"N","x":-0.54,"y":0.8},{"g":"30m","s":"N","x":-0.5,"y":0.2},{"g":"30m","s":"N","x":-0.47,"y":1.1},{"g":"30m","s":"N","x":-0.44,"y":0.0},{"g":"30m","s":"N","x":-0.41,"y":0.6},{"g":"30m","s":"N","x":-0.38,"y":0.2},{"g":"30m","s":"N","x":-0.35,"y":1.0},{"g":"30m","s":"N","x":-0.32,"y":0.0},{"g":"30m","s":"N","x":-0.29,"y":0.4},{"g":"30m","s":"N","x":-0.27,"y":0.9},{"g":"30m","s":"N","x":-0.68,"y":0.0},{"g":"30m","s":"N","x":-0.52,"y":0.0},{"g":"30m","s":"N","x":-0.4,"y":0.0},
  {"g":"30m","s":"N","x":0.27,"y":0.0},{"g":"30m","s":"N","x":0.29,"y":0.6},{"g":"30m","s":"N","x":0.31,"y":1.2},{"g":"30m","s":"N","x":0.33,"y":0.1},{"g":"30m","s":"N","x":0.36,"y":0.8},{"g":"30m","s":"N","x":0.39,"y":0.0},{"g":"30m","s":"N","x":0.42,"y":0.4},{"g":"30m","s":"N","x":0.45,"y":1.0},{"g":"30m","s":"N","x":0.48,"y":0.1},{"g":"30m","s":"N","x":0.51,"y":0.5},{"g":"30m","s":"N","x":0.55,"y":0.0},{"g":"30m","s":"N","x":0.6,"y":0.3},{"g":"30m","s":"N","x":0.66,"y":0.9},{"g":"30m","s":"N","x":0.7,"y":0.2},{"g":"30m","s":"N","x":0.75,"y":0.5},{"g":"30m","s":"N","x":0.8,"y":0.1},{"g":"30m","s":"N","x":0.88,"y":0.4},{"g":"30m","s":"N","x":0.98,"y":0.8},{"g":"30m","s":"N","x":1.2,"y":1.0},{"g":"30m","s":"N","x":0.38,"y":0.5},{"g":"30m","s":"N","x":0.52,"y":0.0},
  {"g":"30m","s":"D","x":-2.0,"y":30.0},{"g":"30m","s":"D","x":-2.0,"y":23.4},{"g":"30m","s":"D","x":-1.29,"y":22.3},{"g":"30m","s":"D","x":-1.61,"y":18.7},{"g":"30m","s":"D","x":-1.10,"y":17.8},{"g":"30m","s":"D","x":-1.03,"y":16.4},{"g":"30m","s":"D","x":-1.15,"y":14.9},{"g":"30m","s":"D","x":-1.09,"y":14.7},{"g":"30m","s":"D","x":-1.12,"y":13.1},{"g":"30m","s":"D","x":-1.02,"y":12.5},{"g":"30m","s":"D","x":-1.00,"y":11.9},{"g":"30m","s":"D","x":-1.11,"y":11.1},{"g":"30m","s":"D","x":-0.85,"y":11.5},{"g":"30m","s":"D","x":-0.76,"y":11.5},{"g":"30m","s":"D","x":-0.89,"y":10.7},{"g":"30m","s":"D","x":-0.74,"y":10.2},{"g":"30m","s":"D","x":-1.32,"y":9.5},{"g":"30m","s":"D","x":-0.78,"y":9.5},{"g":"30m","s":"D","x":-0.97,"y":8.8},{"g":"30m","s":"D","x":-0.64,"y":9.0},{"g":"30m","s":"D","x":-0.84,"y":8.5},{"g":"30m","s":"D","x":-0.95,"y":8.2},{"g":"30m","s":"D","x":-0.81,"y":8.3},{"g":"30m","s":"D","x":-0.61,"y":8.2},{"g":"30m","s":"D","x":-0.48,"y":7.9},{"g":"30m","s":"D","x":-1.31,"y":7.9},{"g":"30m","s":"D","x":-0.86,"y":7.9},{"g":"30m","s":"D","x":-0.73,"y":7.6},{"g":"30m","s":"D","x":-0.94,"y":6.9},{"g":"30m","s":"D","x":-0.64,"y":6.9},{"g":"30m","s":"D","x":-0.83,"y":6.4},{"g":"30m","s":"D","x":-0.71,"y":6.6},{"g":"30m","s":"D","x":-0.57,"y":6.4},{"g":"30m","s":"D","x":-0.50,"y":6.4},{"g":"30m","s":"D","x":-0.79,"y":6.0},{"g":"30m","s":"D","x":-0.69,"y":6.2},{"g":"30m","s":"D","x":-0.34,"y":6.2},{"g":"30m","s":"D","x":-0.61,"y":5.6},{"g":"30m","s":"D","x":-0.53,"y":5.5},{"g":"30m","s":"D","x":-0.86,"y":5.2},{"g":"30m","s":"D","x":-0.74,"y":5.0},{"g":"30m","s":"D","x":-0.67,"y":4.9},{"g":"30m","s":"D","x":-0.57,"y":4.8},{"g":"30m","s":"D","x":-0.50,"y":4.8},{"g":"30m","s":"D","x":-1.04,"y":4.2},{"g":"30m","s":"D","x":-1.03,"y":4.0},{"g":"30m","s":"D","x":-0.81,"y":4.2},{"g":"30m","s":"D","x":-0.74,"y":4.3},{"g":"30m","s":"D","x":-0.62,"y":4.1},{"g":"30m","s":"D","x":-0.48,"y":4.1},{"g":"30m","s":"D","x":-0.42,"y":4.4},{"g":"30m","s":"D","x":-0.89,"y":3.5},{"g":"30m","s":"D","x":-0.74,"y":3.4},{"g":"30m","s":"D","x":-0.67,"y":3.2},{"g":"30m","s":"D","x":-0.57,"y":3.4},{"g":"30m","s":"D","x":-0.48,"y":3.2},{"g":"30m","s":"D","x":-0.36,"y":3.2},{"g":"30m","s":"D","x":-0.29,"y":3.0},{"g":"30m","s":"D","x":-0.66,"y":2.7},{"g":"30m","s":"D","x":-0.57,"y":2.5},{"g":"30m","s":"D","x":-0.48,"y":2.7},{"g":"30m","s":"D","x":-0.38,"y":2.7},{"g":"30m","s":"D","x":-0.27,"y":2.6},{"g":"30m","s":"D","x":-0.69,"y":2.1},{"g":"30m","s":"D","x":-0.61,"y":2.0},{"g":"30m","s":"D","x":-0.54,"y":2.1},{"g":"30m","s":"D","x":-0.45,"y":2.0},{"g":"30m","s":"D","x":-0.36,"y":2.1},{"g":"30m","s":"D","x":-0.29,"y":2.0},{"g":"30m","s":"D","x":-0.68,"y":1.4},{"g":"30m","s":"D","x":-0.57,"y":1.6},{"g":"30m","s":"D","x":-0.48,"y":1.5},{"g":"30m","s":"D","x":-0.40,"y":1.7},{"g":"30m","s":"D","x":-0.31,"y":1.5},{"g":"30m","s":"D","x":-0.64,"y":3.0},{"g":"30m","s":"D","x":-0.53,"y":3.7},{"g":"30m","s":"D","x":-0.44,"y":3.7},{"g":"30m","s":"D","x":-0.59,"y":3.7},{"g":"30m","s":"D","x":-0.42,"y":2.3},{"g":"30m","s":"D","x":-0.33,"y":2.5},{"g":"30m","s":"D","x":-0.50,"y":1.8},{"g":"30m","s":"D","x":-0.60,"y":4.4},{"g":"30m","s":"D","x":-0.70,"y":5.4},{"g":"30m","s":"D","x":-0.55,"y":6.0},
  {"g":"30m","s":"U","x":2.0,"y":30.0},{"g":"30m","s":"U","x":1.32,"y":20.5},{"g":"30m","s":"U","x":1.36,"y":19.7},{"g":"30m","s":"U","x":0.65,"y":18.1},{"g":"30m","s":"U","x":0.62,"y":17.1},{"g":"30m","s":"U","x":1.31,"y":17.2},{"g":"30m","s":"U","x":0.64,"y":14.3},{"g":"30m","s":"U","x":0.61,"y":13.7},{"g":"30m","s":"U","x":1.76,"y":13.2},{"g":"30m","s":"U","x":0.82,"y":12.8},{"g":"30m","s":"U","x":0.66,"y":12.6},{"g":"30m","s":"U","x":1.35,"y":11.8},{"g":"30m","s":"U","x":0.50,"y":11.2},{"g":"30m","s":"U","x":1.00,"y":10.2},{"g":"30m","s":"U","x":1.03,"y":9.7},{"g":"30m","s":"U","x":0.49,"y":9.1},{"g":"30m","s":"U","x":0.70,"y":9.2},{"g":"30m","s":"U","x":0.84,"y":9.2},{"g":"30m","s":"U","x":0.91,"y":9.2},{"g":"30m","s":"U","x":0.46,"y":8.6},{"g":"30m","s":"U","x":0.44,"y":8.1},{"g":"30m","s":"U","x":0.62,"y":7.9},{"g":"30m","s":"U","x":1.02,"y":7.8},{"g":"30m","s":"U","x":0.42,"y":7.4},{"g":"30m","s":"U","x":0.67,"y":7.4},{"g":"30m","s":"U","x":0.46,"y":6.9},{"g":"30m","s":"U","x":1.87,"y":7.0},{"g":"30m","s":"U","x":0.52,"y":6.5},{"g":"30m","s":"U","x":0.42,"y":6.2},{"g":"30m","s":"U","x":0.70,"y":6.1},{"g":"30m","s":"U","x":0.78,"y":6.1},{"g":"30m","s":"U","x":0.94,"y":6.0},{"g":"30m","s":"U","x":0.38,"y":5.6},{"g":"30m","s":"U","x":1.08,"y":5.5},{"g":"30m","s":"U","x":0.33,"y":5.1},{"g":"30m","s":"U","x":0.67,"y":5.1},{"g":"30m","s":"U","x":0.74,"y":5.3},{"g":"30m","s":"U","x":0.55,"y":4.8},{"g":"30m","s":"U","x":0.31,"y":4.6},{"g":"30m","s":"U","x":0.39,"y":4.5},{"g":"30m","s":"U","x":1.48,"y":4.6},{"g":"30m","s":"U","x":1.52,"y":4.2},{"g":"30m","s":"U","x":0.84,"y":4.3},{"g":"30m","s":"U","x":0.91,"y":4.5},{"g":"30m","s":"U","x":0.33,"y":4.1},{"g":"30m","s":"U","x":0.44,"y":4.1},{"g":"30m","s":"U","x":0.30,"y":3.4},{"g":"30m","s":"U","x":0.38,"y":3.4},{"g":"30m","s":"U","x":0.60,"y":3.2},{"g":"30m","s":"U","x":1.16,"y":3.3},{"g":"30m","s":"U","x":0.32,"y":2.8},{"g":"30m","s":"U","x":0.42,"y":3.0},{"g":"30m","s":"U","x":0.35,"y":2.3},{"g":"30m","s":"U","x":0.57,"y":2.3},{"g":"30m","s":"U","x":0.67,"y":2.3},{"g":"30m","s":"U","x":0.78,"y":2.5},{"g":"30m","s":"U","x":1.24,"y":2.4},{"g":"30m","s":"U","x":0.31,"y":2.0},{"g":"30m","s":"U","x":0.42,"y":2.0},{"g":"30m","s":"U","x":0.61,"y":2.0},{"g":"30m","s":"U","x":0.72,"y":2.0},{"g":"30m","s":"U","x":1.15,"y":2.0},{"g":"30m","s":"U","x":0.35,"y":1.4},{"g":"30m","s":"U","x":0.46,"y":1.5},{"g":"30m","s":"U","x":0.65,"y":1.5},{"g":"30m","s":"U","x":0.31,"y":2.5},{"g":"30m","s":"U","x":0.37,"y":1.8},{"g":"30m","s":"U","x":0.41,"y":3.7},{"g":"30m","s":"U","x":0.46,"y":5.8},{"g":"30m","s":"U","x":0.36,"y":4.8}
 ]
},
"vconcat": [
 {
  "spacing": 10,
  "resolve": {"scale": {"color": "independent"}},
  "vconcat": [
   {
    "bounds": "flush",
    "spacing": 51.3,
    "hconcat": [
     {
      "width": 375, "height": 334,
      "layer": [
       {"data": {"name": "vol"}, "transform": [{"filter": "datum.g == '18m'"}],
        "mark": {"type": "circle", "size": 50, "opacity": 1},
        "encoding": {
         "x": {"field": "x", "type": "quantitative", "title": "Log₂(Fold change)", "scale": {"domain": [-2.42, 2.42], "nice": false, "zero": false}, "axis": {"values": [-2,-1,0,1,2], "format": "d", "labelFontSize": 34, "titleFontSize": 35, "titlePadding": 2, "labelPadding": 1, "tickSize": 6, "labelFlush": false, "labelOverlap": false}},
         "y": {"field": "y", "type": "quantitative", "title": "-Log₁₀(Padj)", "scale": {"domain": [-1.6, 33.5], "nice": false, "zero": false}, "axis": {"values": [0,10,20,30], "format": "d", "labelFontSize": 34, "titleFontSize": 33, "titlePadding": 24, "labelPadding": 4, "tickSize": 6}},
         "color": {"field": "s", "type": "nominal", "scale": {"domain": ["D","N","U"], "range": ["#2C5B9A","#DDCFAB","#E8141B"]}, "legend": {"orient": "none", "legendX": 297, "legendY": 519, "direction": "horizontal", "title": null, "symbolType": "circle", "symbolSize": 452, "symbolStrokeWidth": 0, "symbolOpacity": 1, "labelFontSize": 36, "labelOffset": 26, "columnPadding": 89.5, "padding": 0, "labelLimit": 400, "labelExpr": "datum.label == 'D' ? 'Downregulated' : datum.label == 'N' ? 'Unchanged' : 'Upregulated'"}}
        }},
       {"data": {"name": "vcut"}, "mark": {"type": "rule", "color": "#BEBEBE", "strokeWidth": 4, "strokeDash": [16, 14]}, "encoding": {"x": {"field": "fc", "type": "quantitative", "title": "Log₂(Fold change)"}}},
       {"data": {"name": "hcut"}, "mark": {"type": "rule", "color": "#BEBEBE", "strokeWidth": 4, "strokeDash": [16, 14]}, "encoding": {"y": {"field": "p", "type": "quantitative", "title": "-Log₁₀(Padj)"}}},
       {"data": {"name": "pan"}, "transform": [{"filter": "datum.g == '18m'"}], "mark": {"type": "text", "fontSize": 34, "color": "#2C5B9A"}, "encoding": {"x": {"datum": -1.32, "title": "Log₂(Fold change)"}, "y": {"datum": 35.7, "title": "-Log₁₀(Padj)"}, "text": {"field": "down"}}},
       {"data": {"name": "pan"}, "transform": [{"filter": "datum.g == '18m'"}], "mark": {"type": "text", "fontSize": 34, "color": "#E8141B"}, "encoding": {"x": {"datum": 1.45, "title": "Log₂(Fold change)"}, "y": {"datum": 35.7, "title": "-Log₁₀(Padj)"}, "text": {"field": "up"}}},
       {"data": {"name": "pan"}, "transform": [{"filter": "datum.g == '18m'"}], "mark": {"type": "text", "fontSize": 36, "align": "right", "dx": -23}, "encoding": {"x": {"datum": 0, "title": "Log₂(Fold change)"}, "y": {"datum": 40.3, "title": "-Log₁₀(Padj)"}, "text": {"field": "g"}}},
       {"data": {"name": "pan"}, "transform": [{"filter": "datum.g == '18m'"}], "mark": {"type": "text", "fontSize": 36, "fontStyle": "italic", "dx": 10, "text": "vs."}, "encoding": {"x": {"datum": 0, "title": "Log₂(Fold change)"}, "y": {"datum": 40.3, "title": "-Log₁₀(Padj)"}}},
       {"data": {"name": "pan"}, "transform": [{"filter": "datum.g == '18m'"}], "mark": {"type": "text", "fontSize": 36, "align": "left", "dx": 43, "text": "3m"}, "encoding": {"x": {"datum": 0, "title": "Log₂(Fold change)"}, "y": {"datum": 40.3, "title": "-Log₁₀(Padj)"}}},
       {"data": {"values": [{"label": "A"}]}, "mark": {"type": "text", "fontSize": 28, "fontWeight": "bold"}, "encoding": {"x": {"datum": -3.555, "title": "Log₂(Fold change)"}, "y": {"datum": 41.4, "title": "-Log₁₀(Padj)"}, "text": {"field": "label"}}}
      ]
     },
     {
      "width": 375, "height": 334,
      "layer": [
       {"data": {"name": "vol"}, "transform": [{"filter": "datum.g == '21m'"}],
        "mark": {"type": "circle", "size": 50, "opacity": 1},
        "encoding": {
         "x": {"field": "x", "type": "quantitative", "title": "Log₂(Fold change)", "scale": {"domain": [-2.42, 2.42], "nice": false, "zero": false}, "axis": {"values": [-2,-1,0,1,2], "format": "d", "labelFontSize": 34, "titleFontSize": 35, "titlePadding": 2, "labelPadding": 1, "tickSize": 6, "labelFlush": false, "labelOverlap": false}},
         "y": {"field": "y", "type": "quantitative", "title": null, "scale": {"domain": [-1.6, 33.5], "nice": false, "zero": false}, "axis": {"values": [0,10,20,30], "format": "d", "labelFontSize": 34, "labelPadding": 4, "tickSize": 6}},
         "color": {"field": "s", "type": "nominal", "scale": {"domain": ["D","N","U"], "range": ["#2C5B9A","#DDCFAB","#E8141B"]}, "legend": {"orient": "none", "legendX": 297, "legendY": 519, "direction": "horizontal", "title": null, "symbolType": "circle", "symbolSize": 452, "symbolStrokeWidth": 0, "symbolOpacity": 1, "labelFontSize": 36, "labelOffset": 26, "columnPadding": 89.5, "padding": 0, "labelLimit": 400, "labelExpr": "datum.label == 'D' ? 'Downregulated' : datum.label == 'N' ? 'Unchanged' : 'Upregulated'"}}
        }},
       {"data": {"name": "vcut"}, "mark": {"type": "rule", "color": "#BEBEBE", "strokeWidth": 4, "strokeDash": [16, 14]}, "encoding": {"x": {"field": "fc", "type": "quantitative", "title": "Log₂(Fold change)"}}},
       {"data": {"name": "hcut"}, "mark": {"type": "rule", "color": "#BEBEBE", "strokeWidth": 4, "strokeDash": [16, 14]}, "encoding": {"y": {"field": "p", "type": "quantitative", "title": null}}},
       {"data": {"name": "pan"}, "transform": [{"filter": "datum.g == '21m'"}], "mark": {"type": "text", "fontSize": 34, "color": "#2C5B9A"}, "encoding": {"x": {"datum": -1.36, "title": "Log₂(Fold change)"}, "y": {"datum": 35.7, "title": null}, "text": {"field": "down"}}},
       {"data": {"name": "pan"}, "transform": [{"filter": "datum.g == '21m'"}], "mark": {"type": "text", "fontSize": 34, "color": "#E8141B"}, "encoding": {"x": {"datum": 1.46, "title": "Log₂(Fold change)"}, "y": {"datum": 35.7, "title": null}, "text": {"field": "up"}}},
       {"data": {"name": "pan"}, "transform": [{"filter": "datum.g == '21m'"}], "mark": {"type": "text", "fontSize": 36, "align": "right", "dx": -23}, "encoding": {"x": {"datum": 0, "title": "Log₂(Fold change)"}, "y": {"datum": 40.3, "title": null}, "text": {"field": "g"}}},
       {"data": {"name": "pan"}, "transform": [{"filter": "datum.g == '21m'"}], "mark": {"type": "text", "fontSize": 36, "fontStyle": "italic", "dx": 10, "text": "vs."}, "encoding": {"x": {"datum": 0, "title": "Log₂(Fold change)"}, "y": {"datum": 40.3, "title": null}}},
       {"data": {"name": "pan"}, "transform": [{"filter": "datum.g == '21m'"}], "mark": {"type": "text", "fontSize": 36, "align": "left", "dx": 43, "text": "3m"}, "encoding": {"x": {"datum": 0, "title": "Log₂(Fold change)"}, "y": {"datum": 40.3, "title": null}}}
      ]
     },
     {
      "width": 375, "height": 334,
      "layer": [
       {"data": {"name": "vol"}, "transform": [{"filter": "datum.g == '24m'"}],
        "mark": {"type": "circle", "size": 50, "opacity": 1},
        "encoding": {
         "x": {"field": "x", "type": "quantitative", "title": "Log₂(Fold change)", "scale": {"domain": [-2.42, 2.42], "nice": false, "zero": false}, "axis": {"values": [-2,-1,0,1,2], "format": "d", "labelFontSize": 34, "titleFontSize": 35, "titlePadding": 2, "labelPadding": 1, "tickSize": 6, "labelFlush": false, "labelOverlap": false}},
         "y": {"field": "y", "type": "quantitative", "title": null, "scale": {"domain": [-1.6, 33.5], "nice": false, "zero": false}, "axis": {"values": [0,10,20,30], "format": "d", "labelFontSize": 34, "labelPadding": 4, "tickSize": 6}},
         "color": {"field": "s", "type": "nominal", "scale": {"domain": ["D","N","U"], "range": ["#2C5B9A","#DDCFAB","#E8141B"]}, "legend": {"orient": "none", "legendX": 297, "legendY": 519, "direction": "horizontal", "title": null, "symbolType": "circle", "symbolSize": 452, "symbolStrokeWidth": 0, "symbolOpacity": 1, "labelFontSize": 36, "labelOffset": 26, "columnPadding": 89.5, "padding": 0, "labelLimit": 400, "labelExpr": "datum.label == 'D' ? 'Downregulated' : datum.label == 'N' ? 'Unchanged' : 'Upregulated'"}}
        }},
       {"data": {"name": "vcut"}, "mark": {"type": "rule", "color": "#BEBEBE", "strokeWidth": 4, "strokeDash": [16, 14]}, "encoding": {"x": {"field": "fc", "type": "quantitative", "title": "Log₂(Fold change)"}}},
       {"data": {"name": "hcut"}, "mark": {"type": "rule", "color": "#BEBEBE", "strokeWidth": 4, "strokeDash": [16, 14]}, "encoding": {"y": {"field": "p", "type": "quantitative", "title": null}}},
       {"data": {"name": "pan"}, "transform": [{"filter": "datum.g == '24m'"}], "mark": {"type": "text", "fontSize": 34, "color": "#2C5B9A"}, "encoding": {"x": {"datum": -1.3, "title": "Log₂(Fold change)"}, "y": {"datum": 35.7, "title": null}, "text": {"field": "down"}}},
       {"data": {"name": "pan"}, "transform": [{"filter": "datum.g == '24m'"}], "mark": {"type": "text", "fontSize": 34, "color": "#E8141B"}, "encoding": {"x": {"datum": 1.44, "title": "Log₂(Fold change)"}, "y": {"datum": 35.7, "title": null}, "text": {"field": "up"}}},
       {"data": {"name": "pan"}, "transform": [{"filter": "datum.g == '24m'"}], "mark": {"type": "text", "fontSize": 36, "align": "right", "dx": -23}, "encoding": {"x": {"datum": 0, "title": "Log₂(Fold change)"}, "y": {"datum": 40.3, "title": null}, "text": {"field": "g"}}},
       {"data": {"name": "pan"}, "transform": [{"filter": "datum.g == '24m'"}], "mark": {"type": "text", "fontSize": 36, "fontStyle": "italic", "dx": 10, "text": "vs."}, "encoding": {"x": {"datum": 0, "title": "Log₂(Fold change)"}, "y": {"datum": 40.3, "title": null}}},
       {"data": {"name": "pan"}, "transform": [{"filter": "datum.g == '24m'"}], "mark": {"type": "text", "fontSize": 36, "align": "left", "dx": 43, "text": "3m"}, "encoding": {"x": {"datum": 0, "title": "Log₂(Fold change)"}, "y": {"datum": 40.3, "title": null}}}
      ]
     },
     {
      "width": 375, "height": 334,
      "layer": [
       {"data": {"name": "vol"}, "transform": [{"filter": "datum.g == '30m'"}],
        "mark": {"type": "circle", "size": 50, "opacity": 1},
        "encoding": {
         "x": {"field": "x", "type": "quantitative", "title": "Log₂(Fold change)", "scale": {"domain": [-2.42, 2.42], "nice": false, "zero": false}, "axis": {"values": [-2,-1,0,1,2], "format": "d", "labelFontSize": 34, "titleFontSize": 35, "titlePadding": 2, "labelPadding": 1, "tickSize": 6, "labelFlush": false, "labelOverlap": false}},
         "y": {"field": "y", "type": "quantitative", "title": null, "scale": {"domain": [-1.6, 33.5], "nice": false, "zero": false}, "axis": {"values": [0,10,20,30], "format": "d", "labelFontSize": 34, "labelPadding": 4, "tickSize": 6}},
         "color": {"field": "s", "type": "nominal", "scale": {"domain": ["D","N","U"], "range": ["#2C5B9A","#DDCFAB","#E8141B"]}, "legend": {"orient": "none", "legendX": 297, "legendY": 519, "direction": "horizontal", "title": null, "symbolType": "circle", "symbolSize": 452, "symbolStrokeWidth": 0, "symbolOpacity": 1, "labelFontSize": 36, "labelOffset": 26, "columnPadding": 89.5, "padding": 0, "labelLimit": 400, "labelExpr": "datum.label == 'D' ? 'Downregulated' : datum.label == 'N' ? 'Unchanged' : 'Upregulated'"}}
        }},
       {"data": {"name": "vcut"}, "mark": {"type": "rule", "color": "#BEBEBE", "strokeWidth": 4, "strokeDash": [16, 14]}, "encoding": {"x": {"field": "fc", "type": "quantitative", "title": "Log₂(Fold change)"}}},
       {"data": {"name": "hcut"}, "mark": {"type": "rule", "color": "#BEBEBE", "strokeWidth": 4, "strokeDash": [16, 14]}, "encoding": {"y": {"field": "p", "type": "quantitative", "title": null}}},
       {"data": {"name": "pan"}, "transform": [{"filter": "datum.g == '30m'"}], "mark": {"type": "text", "fontSize": 34, "color": "#2C5B9A"}, "encoding": {"x": {"datum": -1.31, "title": "Log₂(Fold change)"}, "y": {"datum": 35.7, "title": null}, "text": {"field": "down"}}},
       {"data": {"name": "pan"}, "transform": [{"filter": "datum.g == '30m'"}], "mark": {"type": "text", "fontSize": 34, "color": "#E8141B"}, "encoding": {"x": {"datum": 1.33, "title": "Log₂(Fold change)"}, "y": {"datum": 35.7, "title": null}, "text": {"field": "up"}}},
       {"data": {"name": "pan"}, "transform": [{"filter": "datum.g == '30m'"}], "mark": {"type": "text", "fontSize": 36, "align": "right", "dx": -23}, "encoding": {"x": {"datum": 0, "title": "Log₂(Fold change)"}, "y": {"datum": 40.3, "title": null}, "text": {"field": "g"}}},
       {"data": {"name": "pan"}, "transform": [{"filter": "datum.g == '30m'"}], "mark": {"type": "text", "fontSize": 36, "fontStyle": "italic", "dx": 10, "text": "vs."}, "encoding": {"x": {"datum": 0, "title": "Log₂(Fold change)"}, "y": {"datum": 40.3, "title": null}}},
       {"data": {"name": "pan"}, "transform": [{"filter": "datum.g == '30m'"}], "mark": {"type": "text", "fontSize": 36, "align": "left", "dx": 43, "text": "3m"}, "encoding": {"x": {"datum": 0, "title": "Log₂(Fold change)"}, "y": {"datum": 40.3, "title": null}}}
      ]
     }
    ]
   },
   {
    "bounds": "flush",
    "spacing": 0,
    "hconcat": [
     {
      "width": 717, "height": 450,
      "layer": [
       {"data": {"name": "ell"}, "transform": [{"filter": "datum.set == '21m'"}], "mark": {"type": "point", "filled": true, "shape": "M-1,0C-1,-0.311,-0.552,-0.564,0,-0.564C0.552,-0.564,1,-0.311,1,0C1,0.311,0.552,0.564,0,0.564C-0.552,0.564,-1,0.311,-1,0Z", "angle": -45, "size": 152100, "opacity": 0.3, "strokeWidth": 0}, "encoding": {"x": {"field": "u", "type": "quantitative", "scale": {"domain": [-0.3321, 0.9552], "nice": false, "zero": false}, "axis": null}, "y": {"field": "v", "type": "quantitative", "scale": {"domain": [0.105, 0.913], "nice": false, "zero": false}, "axis": null}, "color": {"field": "set", "type": "nominal", "scale": {"domain": ["18m","21m","24m","30m"], "range": ["#E7695F","#77A5CD","#ACD0A2","#B298CA"]}, "legend": null}}},
       {"data": {"name": "ell"}, "transform": [{"filter": "datum.set == '18m'"}], "mark": {"type": "point", "filled": true, "shape": "M-1,0C-1,-0.311,-0.552,-0.564,0,-0.564C0.552,-0.564,1,-0.311,1,0C1,0.311,0.552,0.564,0,0.564C-0.552,0.564,-1,0.311,-1,0Z", "angle": 45, "size": 152100, "opacity": 0.3, "strokeWidth": 0}, "encoding": {"x": {"field": "u", "type": "quantitative", "axis": null}, "y": {"field": "v", "type": "quantitative", "axis": null}, "color": {"field": "set", "type": "nominal", "legend": null}}},
       {"data": {"name": "ell"}, "transform": [{"filter": "datum.set == '24m'"}], "mark": {"type": "point", "filled": true, "shape": "M-1,0C-1,-0.224,-0.552,-0.405,0,-0.405C0.552,-0.405,1,-0.224,1,0C1,0.224,0.552,0.405,0,0.405C-0.552,0.405,-1,0.224,-1,0Z", "angle": 45, "size": 152100, "opacity": 0.3, "strokeWidth": 0}, "encoding": {"x": {"field": "u", "type": "quantitative", "axis": null}, "y": {"field": "v", "type": "quantitative", "axis": null}, "color": {"field": "set", "type": "nominal", "legend": null}}},
       {"data": {"name": "ell"}, "transform": [{"filter": "datum.set == '30m'"}], "mark": {"type": "point", "filled": true, "shape": "M-1,0C-1,-0.224,-0.552,-0.405,0,-0.405C0.552,-0.405,1,-0.224,1,0C1,0.224,0.552,0.405,0,0.405C-0.552,0.405,-1,0.224,-1,0Z", "angle": -45, "size": 152100, "opacity": 0.3, "strokeWidth": 0}, "encoding": {"x": {"field": "u", "type": "quantitative", "axis": null}, "y": {"field": "v", "type": "quantitative", "axis": null}, "color": {"field": "set", "type": "nominal", "legend": null}}},
       {"data": {"name": "slab"}, "mark": {"type": "text", "fontSize": 35, "align": "right", "dx": -22}, "encoding": {"x": {"field": "u", "type": "quantitative", "axis": null}, "y": {"field": "v", "type": "quantitative", "axis": null}, "text": {"field": "set"}}},
       {"data": {"name": "slab"}, "mark": {"type": "text", "fontSize": 35, "fontStyle": "italic", "dx": 10, "text": "vs."}, "encoding": {"x": {"field": "u", "type": "quantitative", "axis": null}, "y": {"field": "v", "type": "quantitative", "axis": null}}},
       {"data": {"name": "slab"}, "mark": {"type": "text", "fontSize": 35, "align": "left", "dx": 42, "text": "3m"}, "encoding": {"x": {"field": "u", "type": "quantitative", "axis": null}, "y": {"field": "v", "type": "quantitative", "axis": null}}},
       {"data": {"name": "vn"}, "transform": [{"filter": "datum.dir == 'Upregulated'"}], "mark": {"type": "text", "fontSize": 29}, "encoding": {"x": {"field": "u", "type": "quantitative", "axis": null}, "y": {"field": "v", "type": "quantitative", "axis": null}, "text": {"field": "n"}}},
       {"data": {"name": "vdir"}, "transform": [{"filter": "datum.dir == 'Upregulated'"}], "mark": {"type": "text", "fontSize": 36, "color": "#E0141E"}, "encoding": {"x": {"datum": 0.5, "axis": null}, "y": {"datum": 0.137, "axis": null}, "text": {"field": "dir"}}},
       {"data": {"values": [{"label": "B"}]}, "mark": {"type": "text", "fontSize": 28, "fontWeight": "bold", "align": "left"}, "encoding": {"x": {"datum": -0.521, "axis": null}, "y": {"datum": 0.951, "axis": null}, "text": {"field": "label"}}}
      ]
     },
     {
      "width": 717, "height": 450,
      "layer": [
       {"data": {"name": "ell"}, "transform": [{"filter": "datum.set == '21m'"}], "mark": {"type": "point", "filled": true, "shape": "M-1,0C-1,-0.311,-0.552,-0.564,0,-0.564C0.552,-0.564,1,-0.311,1,0C1,0.311,0.552,0.564,0,0.564C-0.552,0.564,-1,0.311,-1,0Z", "angle": -45, "size": 152100, "opacity": 0.3, "strokeWidth": 0}, "encoding": {"x": {"field": "u", "type": "quantitative", "scale": {"domain": [-0.3321, 0.9552], "nice": false, "zero": false}, "axis": null}, "y": {"field": "v", "type": "quantitative", "scale": {"domain": [0.105, 0.913], "nice": false, "zero": false}, "axis": null}, "color": {"field": "set", "type": "nominal", "scale": {"domain": ["18m","21m","24m","30m"], "range": ["#E7695F","#77A5CD","#ACD0A2","#B298CA"]}, "legend": null}}},
       {"data": {"name": "ell"}, "transform": [{"filter": "datum.set == '18m'"}], "mark": {"type": "point", "filled": true, "shape": "M-1,0C-1,-0.311,-0.552,-0.564,0,-0.564C0.552,-0.564,1,-0.311,1,0C1,0.311,0.552,0.564,0,0.564C-0.552,0.564,-1,0.311,-1,0Z", "angle": 45, "size": 152100, "opacity": 0.3, "strokeWidth": 0}, "encoding": {"x": {"field": "u", "type": "quantitative", "axis": null}, "y": {"field": "v", "type": "quantitative", "axis": null}, "color": {"field": "set", "type": "nominal", "legend": null}}},
       {"data": {"name": "ell"}, "transform": [{"filter": "datum.set == '24m'"}], "mark": {"type": "point", "filled": true, "shape": "M-1,0C-1,-0.224,-0.552,-0.405,0,-0.405C0.552,-0.405,1,-0.224,1,0C1,0.224,0.552,0.405,0,0.405C-0.552,0.405,-1,0.224,-1,0Z", "angle": 45, "size": 152100, "opacity": 0.3, "strokeWidth": 0}, "encoding": {"x": {"field": "u", "type": "quantitative", "axis": null}, "y": {"field": "v", "type": "quantitative", "axis": null}, "color": {"field": "set", "type": "nominal", "legend": null}}},
       {"data": {"name": "ell"}, "transform": [{"filter": "datum.set == '30m'"}], "mark": {"type": "point", "filled": true, "shape": "M-1,0C-1,-0.224,-0.552,-0.405,0,-0.405C0.552,-0.405,1,-0.224,1,0C1,0.224,0.552,0.405,0,0.405C-0.552,0.405,-1,0.224,-1,0Z", "angle": -45, "size": 152100, "opacity": 0.3, "strokeWidth": 0}, "encoding": {"x": {"field": "u", "type": "quantitative", "axis": null}, "y": {"field": "v", "type": "quantitative", "axis": null}, "color": {"field": "set", "type": "nominal", "legend": null}}},
       {"data": {"name": "slab"}, "mark": {"type": "text", "fontSize": 35, "align": "right", "dx": -22}, "encoding": {"x": {"field": "u", "type": "quantitative", "axis": null}, "y": {"field": "v", "type": "quantitative", "axis": null}, "text": {"field": "set"}}},
       {"data": {"name": "slab"}, "mark": {"type": "text", "fontSize": 35, "fontStyle": "italic", "dx": 10, "text": "vs."}, "encoding": {"x": {"field": "u", "type": "quantitative", "axis": null}, "y": {"field": "v", "type": "quantitative", "axis": null}}},
       {"data": {"name": "slab"}, "mark": {"type": "text", "fontSize": 35, "align": "left", "dx": 42, "text": "3m"}, "encoding": {"x": {"field": "u", "type": "quantitative", "axis": null}, "y": {"field": "v", "type": "quantitative", "axis": null}}},
       {"data": {"name": "vn"}, "transform": [{"filter": "datum.dir == 'Downregulated'"}], "mark": {"type": "text", "fontSize": 29}, "encoding": {"x": {"field": "u", "type": "quantitative", "axis": null}, "y": {"field": "v", "type": "quantitative", "axis": null}, "text": {"field": "n"}}},
       {"data": {"name": "vdir"}, "transform": [{"filter": "datum.dir == 'Downregulated'"}], "mark": {"type": "text", "fontSize": 36, "color": "#1F4E8C"}, "encoding": {"x": {"datum": 0.5, "axis": null}, "y": {"datum": 0.137, "axis": null}, "text": {"field": "dir"}}}
      ]
     }
    ]
   }
  ]
 },
 {
  "spacing": 18.5,
  "resolve": {"scale": {"color": "independent", "size": "independent"}},
  "vconcat": [
   {
    "width": 1638, "height": 78,
    "layer": [
     {"data": {"values": [{"k": "line"}]}, "mark": {"type": "rule", "color": "#4D4D4D", "strokeWidth": 1.5}, "encoding": {"x": {"datum": -0.0641, "type": "quantitative", "scale": {"domain": [0, 1], "nice": false, "zero": false}, "axis": null}, "x2": {"datum": 1}, "y": {"datum": 0, "type": "quantitative", "scale": {"domain": [0, 1], "nice": false, "zero": false}, "axis": null}}},
     {"data": {"values": [{"label": "GO term (BP) enrichment analysis of DEGs for pairwise comparisons with a 3-month reference"}]}, "mark": {"type": "text", "fontSize": 36}, "encoding": {"x": {"datum": 0.4637, "axis": null}, "y": {"datum": 0.359, "axis": null}, "text": {"field": "label"}}},
     {"data": {"values": [{"label": "C"}]}, "mark": {"type": "text", "fontSize": 28, "fontWeight": "bold"}, "encoding": {"x": {"datum": -0.0543, "axis": null}, "y": {"datum": 1, "axis": null}, "text": {"field": "label"}}}
    ]
   },
   {
    "bounds": "flush",
    "spacing": 0,
    "resolve": {"scale": {"color": "independent", "size": "independent"}},
    "hconcat": [
     {"width": 455, "height": 1, "data": {"values": [{"t": ""}]}, "mark": {"type": "text", "opacity": 0}, "encoding": {"text": {"field": "t"}}},
     {
      "bounds": "flush",
      "spacing": 662,
      "resolve": {"scale": {"color": "independent", "size": "independent"}},
      "hconcat": [
       {
        "width": 267, "height": 609,
        "title": {"text": "Upregulated", "color": "#E0141E", "fontSize": 36, "fontWeight": "normal", "anchor": "middle", "frame": "group", "dx": -31, "offset": 6},
        "data": {"name": "goup"},
        "mark": {"type": "circle", "opacity": 1},
        "encoding": {
         "x": {"field": "age", "type": "nominal", "scale": {"type": "point", "domain": ["18m","21m","24m","30m"], "padding": 0.6}, "axis": {"title": null, "labelAngle": 0, "labelFontSize": 29, "tickSize": 5, "labelPadding": 2, "labelOverlap": false}},
         "y": {"field": "term", "type": "nominal", "scale": {"type": "point", "domain": ["Cytoplasmic translation","Ribosome biogenesis","Ribosome assembly","Ribonucleoprotein complex\nbiogenesis","Ribosomal small subunit assembly","rRNA processing","ncRNA processing","Ribosomal large subunit biogenesis","Regulation of translational fidelity","Antigen processing and presentation of\npeptide antigen via MHC class Ib\u00a0"], "padding": 0.447, "align": 0.38}, "axis": {"title": null, "labelFontSize": 30, "labelLimit": 800, "labelExpr": "split(datum.label, '\\n')", "labelLineHeight": 36, "labelOffset": {"condition": {"test": "indexof(datum.label, '\\n') >= 0", "value": -18}, "value": 0}, "tickSize": 5, "labelPadding": 4, "labelOverlap": false}},
         "color": {"field": "padj", "type": "quantitative", "scale": {"domain": [1.5, 5, 10, 15, 20, 25, 30, 34.4], "range": ["#F8DA80","#F6C865","#F3A14A","#F07A3A","#EA4D2E","#D9302A","#B01C2C","#6E1428"]}, "legend": {"orient": "none", "legendX": -560, "legendY": -16, "title": "−Log₁₀(Padj)", "values": [10, 20, 30], "gradientLength": 119, "gradientThickness": 22, "direction": "vertical", "titleFontSize": 29, "labelFontSize": 29, "titlePadding": 7, "labelOffset": 12, "padding": 0, "titleLimit": 400, "gradientStrokeWidth": 0}},
         "size": {"field": "count", "type": "quantitative", "scale": {"type": "sqrt", "domain": [2, 24], "range": [125, 840]}, "legend": {"orient": "none", "legendX": -560, "legendY": 172, "title": "Count", "values": [2, 5, 10, 24], "symbolType": "circle", "symbolFillColor": "#000000", "symbolStrokeColor": "#000000", "symbolStrokeWidth": 0, "symbolOpacity": 1, "titleFontSize": 29, "labelFontSize": 29, "titlePadding": 6, "rowPadding": 4, "labelOffset": 12, "padding": 0}}
        }
       },
       {
        "width": 269, "height": 609,
        "title": {"text": "Downregulated", "color": "#1F4E8C", "fontSize": 36, "fontWeight": "normal", "anchor": "middle", "frame": "group", "dx": -13, "offset": 6},
        "data": {"name": "godn"},
        "mark": {"type": "circle", "opacity": 1},
        "encoding": {
         "x": {"field": "age", "type": "nominal", "scale": {"type": "point", "domain": ["18m","21m","24m","30m"], "padding": 0.6}, "axis": {"title": null, "labelAngle": 0, "labelFontSize": 29, "tickSize": 5, "labelPadding": 2, "labelOverlap": false}},
         "y": {"field": "term", "type": "nominal", "scale": {"type": "point", "domain": ["Regulation of angiogenesis","Positive regulation of cell adhesion","Blood vessel endothelial cell migration","Sprouting angiogenesis","Small GTPase mediated\nsignal transduction","Endothelial cell differentiation","Cellular response to vascular\nendothelial growth factor stimulus\u00a0","Endothelial cell proliferation","Leukocyte adhesion to\nvascular endothelial cell\u00a0","Vascular endothelial growth factor\nreceptor signaling pathway\u00a0"], "padding": 0.483, "align": 0.373}, "axis": {"title": null, "labelFontSize": 30, "labelLimit": 800, "labelExpr": "split(datum.label, '\\n')", "labelLineHeight": 36, "labelOffset": {"condition": [{"test": "indexof(datum.label, 'receptor signaling') >= 0", "value": -12}, {"test": "indexof(datum.label, 'Leukocyte') >= 0", "value": -21}, {"test": "indexof(datum.label, '\\n') >= 0", "value": -18}], "value": 0}, "tickSize": 5, "labelPadding": 4, "labelOverlap": false}},
         "color": {"field": "padj", "type": "quantitative", "scale": {"domain": [1.4, 2.233, 3.067, 3.9, 4.733, 5.567, 6.4], "range": ["#C7E9B4","#7FCDBB","#41B6C4","#1D91C0","#225EA8","#253494","#1B2451"]}, "legend": {"orient": "none", "legendX": -630, "legendY": -17, "title": "−Log₁₀(Padj)", "values": [2, 4, 6], "gradientLength": 119, "gradientThickness": 22, "direction": "vertical", "titleFontSize": 29, "labelFontSize": 29, "titlePadding": 7, "labelOffset": 12, "padding": 0, "titleLimit": 400, "gradientStrokeWidth": 0}},
         "size": {"field": "count", "type": "quantitative", "scale": {"type": "sqrt", "domain": [3, 14], "range": [133, 804]}, "legend": {"orient": "none", "legendX": -630, "legendY": 171, "title": "Count", "values": [3, 5, 10, 14], "symbolType": "circle", "symbolFillColor": "#000000", "symbolStrokeColor": "#000000", "symbolStrokeWidth": 0, "symbolOpacity": 1, "titleFontSize": 29, "labelFontSize": 29, "titlePadding": 6, "rowPadding": 4, "labelOffset": 12, "padding": 0}}
        }
       }
      ]
     }
    ]
   }
  ]
 }
],
"spacing": 7,
"resolve": {"scale": {"color": "independent", "size": "independent"}}
}
